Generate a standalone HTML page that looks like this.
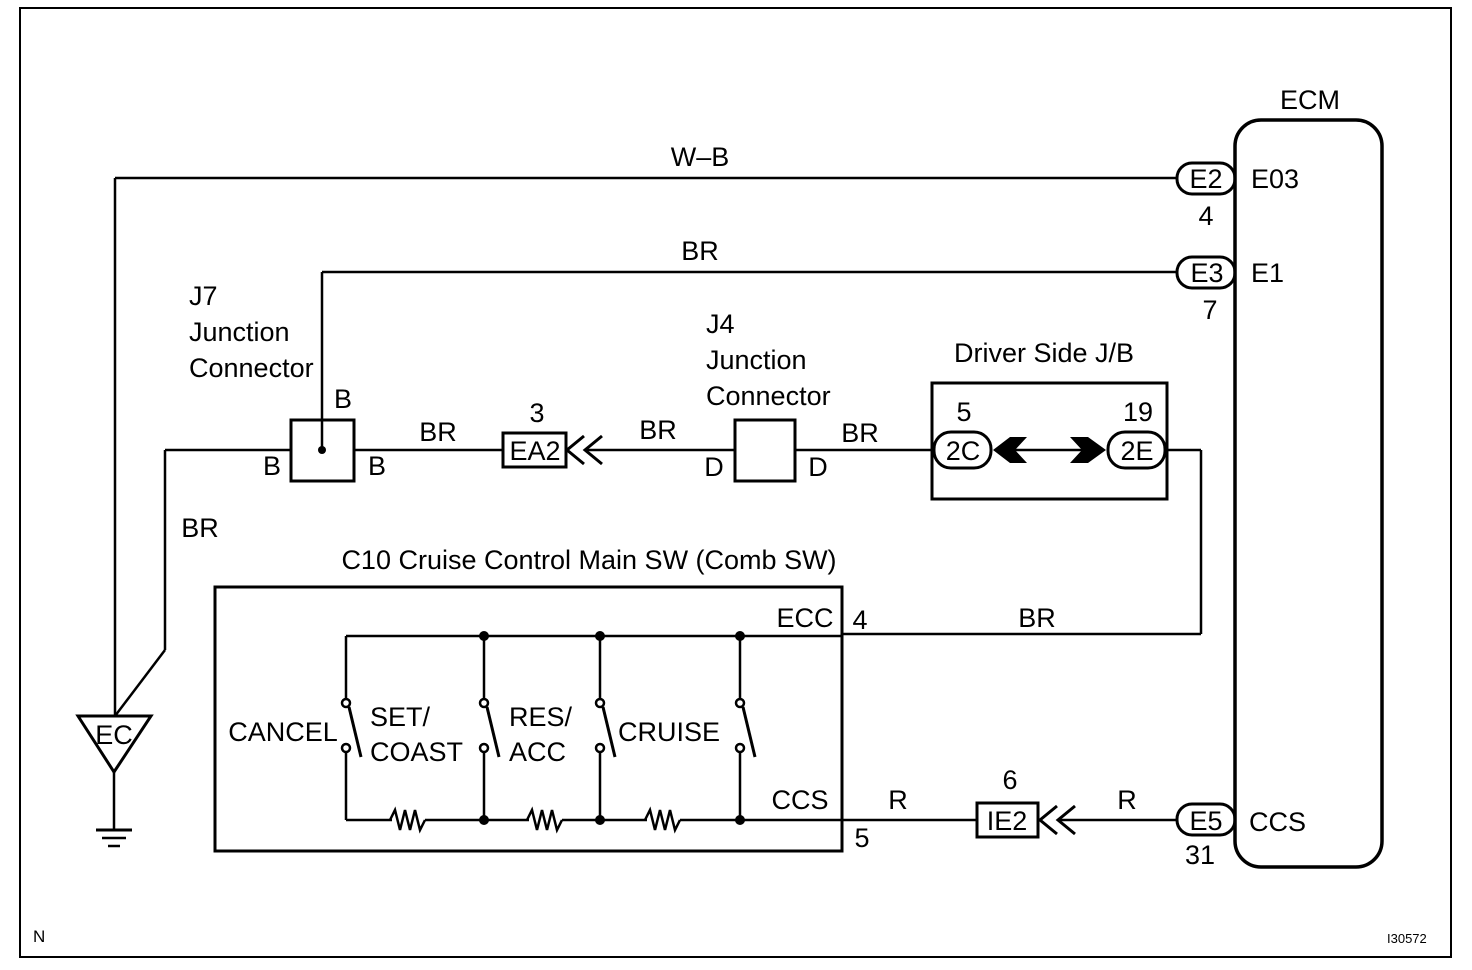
<!DOCTYPE html>
<html><head><meta charset="utf-8"><style>
html,body{margin:0;padding:0;background:#fff}
svg{display:block}
text{font-family:"Liberation Sans",Arial,sans-serif;font-size:27px;fill:#000}
</style></head><body>
<svg width="1472" height="970" viewBox="0 0 1472 970" xmlns="http://www.w3.org/2000/svg">
<g fill="none" stroke="#000" stroke-width="2.5">
<rect x="20" y="8" width="1431" height="949" stroke-width="2"/>
<rect x="1235" y="120" width="147" height="747" rx="26" stroke-width="3.5"/>
<line x1="115" y1="178" x2="1177" y2="178"/>
<line x1="115" y1="178" x2="115" y2="716"/>
<rect x="1177" y="163" width="58" height="31" rx="15" stroke-width="3"/>
<line x1="322" y1="272" x2="1177" y2="272"/>
<line x1="322" y1="272" x2="322" y2="450"/>
<rect x="1177" y="257" width="58" height="31" rx="15" stroke-width="3"/>
<rect x="291" y="420" width="63" height="61" stroke-width="3"/>
<line x1="165" y1="450" x2="291" y2="450"/>
<line x1="354" y1="450" x2="503" y2="450"/>
<line x1="165" y1="450" x2="165" y2="650"/>
<line x1="165" y1="650" x2="115" y2="716"/>
<rect x="503" y="433" width="63" height="34" stroke-width="3"/>
<polyline points="584,436 567,450 584,464" stroke-width="3"/>
<polyline points="602,436 585,450 602,464" stroke-width="3"/>
<line x1="585" y1="450" x2="735" y2="450"/>
<rect x="735" y="420" width="60" height="61" stroke-width="3"/>
<line x1="795" y1="450" x2="934" y2="450"/>
<rect x="932" y="383" width="235" height="116" stroke-width="3"/>
<rect x="934" y="432" width="57" height="36" rx="17" stroke-width="3"/>
<rect x="1108" y="432" width="57" height="36" rx="17" stroke-width="3"/>
<line x1="1010" y1="450" x2="1086" y2="450"/>
<line x1="1167" y1="450" x2="1201" y2="450"/>
<line x1="1201" y1="450" x2="1201" y2="634"/>
<line x1="843" y1="634" x2="1201" y2="634"/>
<polygon points="78,716 151,716 114,772" stroke-width="3"/>
<line x1="114" y1="772" x2="114" y2="830"/>
<line x1="96" y1="830" x2="132" y2="830" stroke-width="3"/>
<line x1="102" y1="838" x2="126" y2="838"/>
<line x1="108" y1="846" x2="120" y2="846"/>
<rect x="215" y="587" width="627" height="264" stroke-width="3"/>
<line x1="346" y1="636" x2="842" y2="636"/>
<line x1="346" y1="820" x2="392" y2="820"/>
<polyline points="390,820 395,810 400,830 405,810 410,830 415,810 420,830 425,820" stroke-width="2.5"/>
<line x1="425" y1="820" x2="529" y2="820"/>
<polyline points="527,820 532,810 537,830 542,810 547,830 552,810 557,830 562,820"/>
<line x1="562" y1="820" x2="647" y2="820"/>
<polyline points="645,820 650,810 655,830 660,810 665,830 670,810 675,830 680,820"/>
<line x1="680" y1="820" x2="977" y2="820"/>
<g>
<line x1="346" y1="636" x2="346" y2="699"/><line x1="346" y1="752" x2="346" y2="820"/>
<circle cx="346" cy="703" r="4"/><circle cx="346" cy="748" r="4"/>
<line x1="349" y1="707" x2="361" y2="757" stroke-width="3"/>
<line x1="484" y1="636" x2="484" y2="699"/><line x1="484" y1="752" x2="484" y2="820"/>
<circle cx="484" cy="703" r="4"/><circle cx="484" cy="748" r="4"/>
<line x1="487" y1="707" x2="499" y2="757" stroke-width="3"/>
<line x1="600" y1="636" x2="600" y2="699"/><line x1="600" y1="752" x2="600" y2="820"/>
<circle cx="600" cy="703" r="4"/><circle cx="600" cy="748" r="4"/>
<line x1="603" y1="707" x2="615" y2="757" stroke-width="3"/>
<line x1="740" y1="636" x2="740" y2="699"/><line x1="740" y1="752" x2="740" y2="820"/>
<circle cx="740" cy="703" r="4"/><circle cx="740" cy="748" r="4"/>
<line x1="743" y1="707" x2="755" y2="757" stroke-width="3"/>
</g>
<rect x="977" y="803" width="61" height="34" stroke-width="3"/>
<polyline points="1057,806 1040,820 1057,834" stroke-width="3"/>
<polyline points="1075,806 1058,820 1075,834" stroke-width="3"/>
<line x1="1058" y1="820" x2="1177" y2="820"/>
<rect x="1177" y="804" width="58" height="31" rx="15" stroke-width="3"/>
</g>
<g fill="#000">
<circle cx="322" cy="450" r="4"/>
<circle cx="484" cy="636" r="5"/><circle cx="600" cy="636" r="5"/><circle cx="740" cy="636" r="5"/>
<circle cx="484" cy="820" r="5"/><circle cx="600" cy="820" r="5"/><circle cx="740" cy="820" r="5"/>
<polygon points="993,450 1010,437 1027,437 1015,450 1027,463 1010,463"/>
<polygon points="1070,437 1088,437 1106,450 1088,463 1070,463 1082,450"/>
</g>
<g>
<text x="1310" y="109" text-anchor="middle">ECM</text>
<text x="700" y="166" text-anchor="middle">W–B</text>
<text x="1206" y="188" text-anchor="middle">E2</text>
<text x="1251" y="188">E03</text>
<text x="1206" y="225" text-anchor="middle">4</text>
<text x="700" y="260" text-anchor="middle">BR</text>
<text x="1207" y="282" text-anchor="middle">E3</text>
<text x="1251" y="282">E1</text>
<text x="1210" y="319" text-anchor="middle">7</text>
<text x="189" y="305">J7</text>
<text x="189" y="341">Junction</text>
<text x="189" y="377">Connector</text>
<text x="343" y="408" text-anchor="middle">B</text>
<text x="272" y="475" text-anchor="middle">B</text>
<text x="377" y="475" text-anchor="middle">B</text>
<text x="438" y="441" text-anchor="middle">BR</text>
<text x="537" y="422" text-anchor="middle">3</text>
<text x="535" y="460" text-anchor="middle">EA2</text>
<text x="658" y="439" text-anchor="middle">BR</text>
<text x="706" y="333">J4</text>
<text x="706" y="369">Junction</text>
<text x="706" y="405">Connector</text>
<text x="714" y="476" text-anchor="middle">D</text>
<text x="818" y="476" text-anchor="middle">D</text>
<text x="860" y="442" text-anchor="middle">BR</text>
<text x="1044" y="362" text-anchor="middle">Driver Side J/B</text>
<text x="964" y="421" text-anchor="middle">5</text>
<text x="1138" y="421" text-anchor="middle">19</text>
<text x="963" y="460" text-anchor="middle">2C</text>
<text x="1137" y="460" text-anchor="middle">2E</text>
<text x="200" y="537" text-anchor="middle">BR</text>
<text x="589" y="569" text-anchor="middle">C10 Cruise Control Main SW (Comb SW)</text>
<text x="805" y="627" text-anchor="middle">ECC</text>
<text x="860" y="629" text-anchor="middle">4</text>
<text x="1037" y="627" text-anchor="middle">BR</text>
<text x="283" y="741" text-anchor="middle">CANCEL</text>
<text x="370" y="726">SET/</text>
<text x="370" y="761">COAST</text>
<text x="509" y="726">RES/</text>
<text x="509" y="761">ACC</text>
<text x="618" y="741">CRUISE</text>
<text x="800" y="809" text-anchor="middle">CCS</text>
<text x="862" y="847" text-anchor="middle">5</text>
<text x="898" y="809" text-anchor="middle">R</text>
<text x="1010" y="789" text-anchor="middle">6</text>
<text x="1007" y="830" text-anchor="middle">IE2</text>
<text x="1127" y="809" text-anchor="middle">R</text>
<text x="1206" y="830" text-anchor="middle">E5</text>
<text x="1249" y="831">CCS</text>
<text x="1200" y="864" text-anchor="middle">31</text>
<text x="114" y="744" text-anchor="middle">EC</text>
<text x="33" y="942" style="font-size:17px">N</text>
<text x="1387" y="943" style="font-size:13px">I30572</text>
</g>
</svg>
</body></html>
